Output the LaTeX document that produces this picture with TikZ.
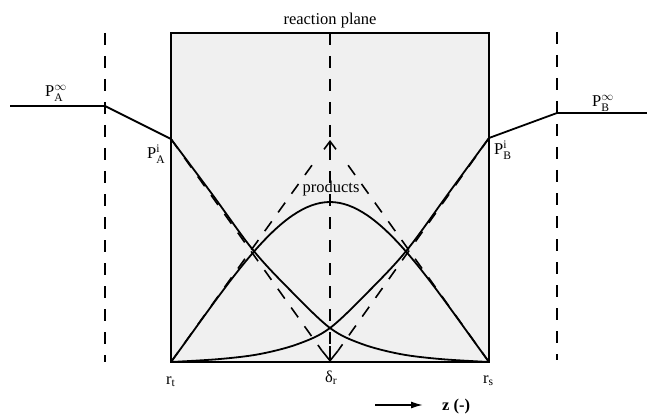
\documentclass[tikz,border=0pt]{standalone}
\usepackage{fontspec}
\setmainfont{Liberation Serif}
\usepackage{amsmath}
\usetikzlibrary{arrows.meta}
\begin{document}
\begin{tikzpicture}[x=1pt,y=-1pt,
  solidcurve/.style={line width=1.8pt, line join=round},
  dashedline/.style={line width=1.6pt, dash pattern=on 12pt off 11pt},
  lbl/.style={inner sep=0pt, font=\fontsize{16.5}{19}\selectfont},
  barbup/.style={line width=1.6pt, -{Straight Barb[length=8pt,width=12pt]}},
  barbdown/.style={line width=1.6pt, -{Straight Barb[length=10pt,width=16pt]}}]
\useasboundingbox (0,0) rectangle (647,414);
% key points
\coordinate (TL) at (171,33);
\coordinate (BR) at (489,362);
\coordinate (BL) at (171,362);
\coordinate (TR) at (489,33);
\coordinate (Ai) at (171,139);
\coordinate (Bi) at (489,138);
\coordinate (Ainf) at (10,106);
\coordinate (Ak) at (105,106);
\coordinate (Binf) at (647,113);
\coordinate (Bk) at (557,113);
\coordinate (Apex) at (330,140);
\coordinate (Bot) at (330,362);
\coordinate (Ctop) at (330,33);
\coordinate (Peak) at (330,202);
\coordinate (LTop) at (105,33);
\coordinate (LBot) at (105,362);
\coordinate (RTop) at (557,32);
\coordinate (RBot) at (557,360);
% box fill
\fill[black!6] (TL) rectangle (BR);
% dashed lines
\draw[dashedline] (LTop) -- (LBot);
\draw[dashedline] (RTop) -- (RBot);
\draw[dashedline] (Ctop) -- (Bot);
\draw[dashedline, shorten >=14pt] (Ai) -- (Bot);
\draw[dashedline, shorten >=14pt] (Bi) -- (Bot);
\draw[dashedline, shorten >=22pt] (BL) -- (Apex);
\draw[dashedline, shorten >=22pt] (BR) -- (Apex);
\draw[barbup] (330,152) -- (Apex);
\draw[barbdown] (330,346) -- (Bot);
% profiles outside
\draw[solidcurve] (Ainf) -- (Ak) -- (Ai);
\draw[solidcurve] (Binf) -- (Bk) -- (Bi);
% A profile
\draw[solidcurve] plot[smooth, tension=0.55] coordinates {(171,139) (212,194) (253,250) (290,290) (330,328) (362,344) (400,354) (440,359) (489,362)};
% B profile
\draw[solidcurve] plot[smooth, tension=0.55] coordinates {(489,138) (448,194) (407,250) (370,290) (330,328) (298,344) (260,354) (220,359) (171,362)};
% products
\draw[solidcurve] (BL) .. controls (231,280) and (280,202) .. (Peak) .. controls (380,202) and (429,280) .. (BR);
% box border
\draw[line width=1.7pt] (TL) rectangle (BR);
% labels
\node[lbl, anchor=base] (rp) at (330,25) {reaction plane};
\node[lbl, anchor=base west] (painf) at (45,97) {P$^{\infty}_{\text{A}}$};
\node[lbl, anchor=base west] (pai) at (147,159) {P$^{\text{i}}_{\text{A}}$};
\node[lbl, anchor=base west] (pbinf) at (592,107) {P$^{\infty}_{\text{B}}$};
\node[lbl, anchor=base west] (pbi) at (494,155) {P$^{\text{i}}_{\text{B}}$};
\node[lbl, anchor=base] (prod) at (331,192) {products};
\node[lbl, anchor=base west] (rt) at (166,384) {r$_{\text{t}}$};
\node[lbl, anchor=base west] (dr) at (325,382) {δ$_{\text{r}}$};
\node[lbl, anchor=base west] (rs) at (483,383) {r$_{\text{s}}$};
\coordinate (zs) at (375,405);
\coordinate (ze) at (423,405);
\draw[line width=1.6pt, -{Latex[length=12pt,width=7pt]}] (zs) -- (ze);
\node[lbl, anchor=base west] (z) at (442,410) {\textbf{z (-)}};
\end{tikzpicture}
\end{document}
